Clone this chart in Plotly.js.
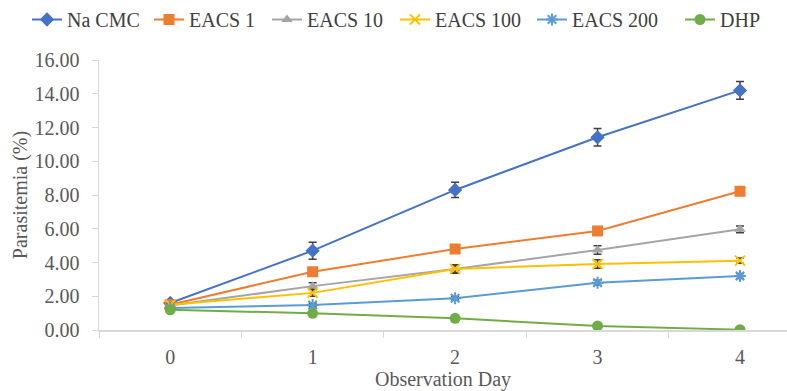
<!DOCTYPE html>
<html>
<head>
<meta charset="utf-8">
<script src="https://cdn.plot.ly/plotly-3.0.1.min.js"></script>
<style>html,body{margin:0;padding:0;background:#fff;}#chart{width:787px;height:391px;}</style>
</head>
<body>
<div id="chart"></div>
<script>
const days = [0, 1, 2, 3, 4];
const dayLabels = ["0", "1", "2", "3", "4"];
const seriesNames = ["Na CMC", "EACS 1", "EACS 10", "EACS 100", "EACS 200", "DHP"];
const naCMC = [1.6, 4.7, 8.3, 11.42, 14.2];
const naCMCErr = [0.1, 0.5, 0.45, 0.52, 0.52];
const eacs1 = [1.5, 3.45, 4.8, 5.87, 8.22];
const eacs1Err = [0.1, 0.15, 0.15, 0.15, 0.15];
const eacs10 = [1.45, 2.6, 3.62, 4.74, 5.97];
const eacs10Err = [0.1, 0.2, 0.2, 0.25, 0.2];
const eacs100 = [1.5, 2.2, 3.62, 3.91, 4.11];
const eacs100Err = [0.1, 0.2, 0.25, 0.25, 0.15];
const eacs200 = [1.3, 1.48, 1.88, 2.8, 3.2];
const eacs200Err = [0.05, 0.1, 0.1, 0.15, 0.15];
const dhp = [1.2, 0.99, 0.69, 0.24, 0.02];
const dhpErr = [0.05, 0.05, 0.05, 0.05, 0.05];
const yTicks = [0, 2, 4, 6, 8, 10, 12, 14, 16];

const colors = ["#4472C4", "#ED7D31", "#A5A5A5", "#FFC000", "#5B9BD5", "#70AD47"];
const symbols = ["diamond", "square", "triangle-up", "x-thin-open", "asterisk-open", "circle"];
const sizes = [11, 11, 10, 10, 10, 11];
const legendLeft = [32, 154, 272, 400, 537, 685];
const values = [naCMC, eacs1, eacs10, eacs100, eacs200, dhp];
const errs = [naCMCErr, eacs1Err, eacs10Err, eacs100Err, eacs200Err, dhpErr];
const legendIds = ["legend", "legend2", "legend3", "legend4", "legend5", "legend6"];

const traces = values.map((v, i) => ({
  x: days, y: v, name: seriesNames[i], type: "scatter", mode: "lines+markers",
  legend: legendIds[i],
  line: {color: colors[i], width: 2},
  marker: {symbol: symbols[i], size: sizes[i], color: colors[i], line: {color: colors[i], width: (i === 3 || i === 4) ? 2 : 0}},
  error_y: {type: "data", array: errs[i], visible: true, color: "#404040", thickness: 1.5, width: 4}
}));

const fam = "Liberation Serif, serif";
const txt = {family: fam, size: 20, color: "#595959"};
const layout = {
  width: 787, height: 391,
  margin: {l: 99, r: 0, t: 60, b: 61},
  paper_bgcolor: "#fff", plot_bgcolor: "#fff",
  font: txt,
  showlegend: true,
  xaxis: {
    range: [-0.5, 4.33], tickvals: days, ticktext: dayLabels, ticks: "",
    showline: true, linecolor: "#D9D9D9", linewidth: 1.5, showgrid: false, zeroline: false,
    minor: {tick0: 0.5, dtick: 1, ticks: "outside", ticklen: 6, tickcolor: "#D9D9D9", showgrid: false},
    tickfont: txt, ticklabelstandoff: 8,
    title: {text: "Observation Day", font: txt, standoff: 10}
  },
  yaxis: {
    range: [0, 16], tickvals: yTicks, tickformat: ".2f", ticks: "outside", ticklen: 6, tickcolor: "#D9D9D9",
    showline: true, linecolor: "#D9D9D9", linewidth: 1.5, showgrid: false, zeroline: false,
    tickfont: txt, ticklabelstandoff: 8,
    title: {text: "Parasitemia (%)", font: txt, standoff: 1}
  }
};
legendIds.forEach((id, i) => {
  layout[id] = {orientation: "h", x: (legendLeft[i] - 5) / 787, xref: "container", xanchor: "left",
                y: 1.0, yref: "container", yanchor: "top", bgcolor: "rgba(0,0,0,0)",
                font: {family: fam, size: 20, color: "#404040"}, itemwidth: 30};
});
Plotly.newPlot("chart", traces, layout, {displayModeBar: false, staticPlot: true});
</script>
</body>
</html>
